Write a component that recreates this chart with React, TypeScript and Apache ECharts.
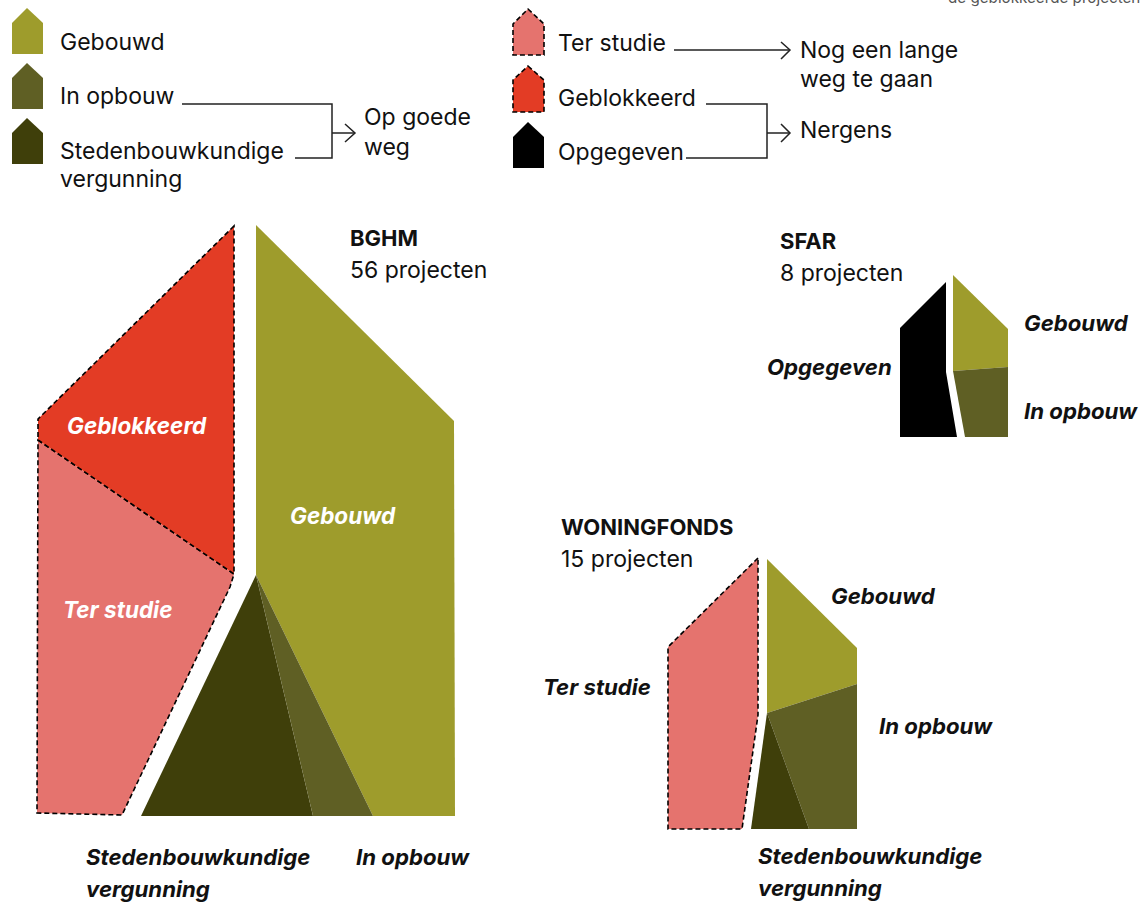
import React, { useEffect, useRef } from "react";
import * as echarts from "echarts";

const GEBOUWD = "#9e9c2c";
const OPBOUW = "#5f5f24";
const VERGUNNING = "#3f3f0a";
const STUDIE = "#e5736e";
const GEBLOKKEERD = "#e33c25";
const OPGEGEVEN = "#000000";

type Pt = number[];
const bghmGeblokkeerd: Pt[] = [[234, 226], [38, 419], [38, 440], [234, 574]];
const bghmStudie: Pt[] = [[38, 440], [234, 574], [230, 587], [122, 815], [37, 813]];
const bghmGebouwd: Pt[] = [[256, 225], [454, 421], [455, 816], [373, 816], [256, 575]];
const bghmVergunning: Pt[] = [[256, 575], [313, 816], [141, 816]];
const bghmOpbouw: Pt[] = [[256, 575], [373, 816], [313, 816]];

const sfarOpgegeven: Pt[] = [[946, 282], [900, 328], [900, 437], [957, 437], [946, 372]];
const sfarGebouwd: Pt[] = [[953, 275], [1008, 329], [1008, 367], [953, 371]];
const sfarOpbouw: Pt[] = [[953, 371], [1008, 367], [1008, 437], [965, 437]];

const wfStudie: Pt[] = [[758, 558], [668, 647], [668, 829], [742, 829], [758, 715]];
const wfGebouwd: Pt[] = [[767, 559], [857, 648], [857, 684], [767, 713]];
const wfOpbouw: Pt[] = [[767, 713], [857, 684], [857, 829], [809, 829]];
const wfVergunning: Pt[] = [[767, 713], [809, 829], [751, 829]];

const legGebouwd: Pt[] = [[27, 8], [43, 23], [43, 54], [12, 54], [12, 23]];
const legOpbouw: Pt[] = [[27, 63], [43, 78], [43, 109], [12, 109], [12, 78]];
const legVergunning: Pt[] = [[27, 118], [43, 133], [43, 164], [12, 164], [12, 133]];
const legStudie: Pt[] = [[528, 9], [544, 24], [544, 55], [513, 55], [513, 24]];
const legGeblokkeerd: Pt[] = [[528, 66], [544, 80], [544, 112], [513, 112], [513, 80]];
const legOpgegeven: Pt[] = [[528, 122], [544, 137], [544, 168], [513, 168], [513, 137]];

// [points, fill, dashed]
const shapes: [Pt[], string, boolean][] = [
  [bghmStudie, STUDIE, true],
  [bghmGeblokkeerd, GEBLOKKEERD, true],
  [bghmGebouwd, GEBOUWD, false],
  [bghmVergunning, VERGUNNING, false],
  [bghmOpbouw, OPBOUW, false],
  [sfarOpgegeven, OPGEGEVEN, false],
  [sfarGebouwd, GEBOUWD, false],
  [sfarOpbouw, OPBOUW, false],
  [wfStudie, STUDIE, true],
  [wfGebouwd, GEBOUWD, false],
  [wfOpbouw, OPBOUW, false],
  [wfVergunning, VERGUNNING, false],
  [legGebouwd, GEBOUWD, false],
  [legOpbouw, OPBOUW, false],
  [legVergunning, VERGUNNING, false],
  [legStudie, STUDIE, true],
  [legGeblokkeerd, GEBLOKKEERD, true],
  [legOpgegeven, OPGEGEVEN, false],
];

const connectorLines: Pt[][] = [
  [[182, 104], [332, 104], [332, 158], [295, 158]],
  [[332, 133], [355, 133]],
  [[345, 124], [355, 133], [345, 142]],
  [[674, 50], [790, 50]],
  [[781, 42], [790, 50], [781, 59]],
  [[706, 104], [767, 104], [767, 158], [686, 158]],
  [[767, 133], [790, 133]],
  [[781, 124], [790, 133], [781, 142]],
];

// [text, x, y-middle, kind]  kinds: n normal, h heading, i italic, w white italic, s small
const texts: [string, number, number, string][] = [
  ["de geblokkeerde projecten", 948, -3, "s"],
  ["Gebouwd", 60, 42, "n"],
  ["In opbouw", 60, 96, "n"],
  ["Stedenbouwkundige", 60, 151, "n"],
  ["vergunning", 60, 179, "n"],
  ["Op goede", 364, 117, "n"],
  ["weg", 364, 147, "n"],
  ["Ter studie", 558, 43, "n"],
  ["Geblokkeerd", 558, 98, "n"],
  ["Opgegeven", 558, 152, "n"],
  ["Nog een lange", 800, 50, "n"],
  ["weg te gaan", 800, 79, "n"],
  ["Nergens", 800, 130, "n"],
  ["BGHM", 350, 238, "h"],
  ["56 projecten", 350, 270, "n"],
  ["SFAR", 780, 241, "h"],
  ["8 projecten", 780, 273, "n"],
  ["WONINGFONDS", 561, 527, "h"],
  ["15 projecten", 561, 559, "n"],
  ["Geblokkeerd", 67, 425, "w"],
  ["Gebouwd", 290, 515.5, "w"],
  ["Ter studie", 63, 609, "w"],
  ["Stedenbouwkundige", 86, 856, "i"],
  ["vergunning", 86, 888, "i"],
  ["In opbouw", 356, 856, "i"],
  ["Gebouwd", 1024, 322.5, "i"],
  ["Opgegeven", 767, 366, "i"],
  ["In opbouw", 1024, 410, "i"],
  ["Gebouwd", 831, 595, "i"],
  ["Ter studie", 543, 686, "i"],
  ["In opbouw", 879, 725, "i"],
  ["Stedenbouwkundige", 758, 855, "i"],
  ["vergunning", 758, 887, "i"],
];

const FONT = "Inter";
const SIZES: Record<string, number> = { n: 23, h: 22, i: 22.2, w: 22.5, s: 15.2 };

export default function App() {
  const ref = useRef<HTMLDivElement>(null);
  useEffect(() => {
    document.body.style.margin = "0";
    const chart = echarts.init(ref.current!, undefined, { renderer: "svg" });
    const coordAll = (api: any, pts: Pt[]) => pts.map((p) => api.coord(p));
    chart.setOption({
      animation: false,
      backgroundColor: "#ffffff",
      grid: { left: 0, right: 0, top: 0, bottom: 0 },
      xAxis: { type: "value", min: 0, max: 1141, show: false },
      yAxis: { type: "value", min: 0, max: 903, inverse: true, show: false },
      series: [
        {
          type: "custom",
          clip: false,
          data: shapes.map((_, i) => [i]),
          encode: { x: 0, y: 0 },
          renderItem: (params: any, api: any) => {
            const [pts, fill, dashed] = shapes[params.dataIndex];
            return {
              type: "polygon",
              shape: { points: coordAll(api, pts) },
              style: {
                fill,
                stroke: dashed ? "#000000" : null,
                lineWidth: dashed ? 1.6 : 0,
                lineDash: dashed ? [5, 3] : null,
              },
            };
          },
        },
        {
          type: "custom",
          clip: false,
          data: connectorLines.map((_, i) => [i]),
          encode: { x: 0, y: 0 },
          renderItem: (params: any, api: any) => ({
            type: "polyline",
            shape: { points: coordAll(api, connectorLines[params.dataIndex]) },
            style: { fill: null, stroke: "#222222", lineWidth: 1.5 },
          }),
        },
        {
          type: "custom",
          clip: false,
          data: texts.map((_, i) => [i]),
          encode: { x: 0, y: 0 },
          renderItem: (params: any, api: any) => {
            const [text, x, y, kind] = texts[params.dataIndex];
            const [px, py] = api.coord([x, y]);
            const emph = kind === "i" || kind === "w";
            return {
              type: "text",
              x: px,
              y: py,
              style: {
                text,
                fill: kind === "w" ? "#ffffff" : kind === "s" ? "#555555" : "#111111",
                fontFamily: FONT,
                fontSize: SIZES[kind],
                fontStyle: emph ? "italic" : "normal",
                fontWeight: emph || kind === "h" ? 700 : 400,
                textAlign: "left",
                textVerticalAlign: "middle",
              },
            };
          },
        },
      ],
    });
    return () => chart.dispose();
  }, []);
  return <div ref={ref} style={{ width: 1141, height: 903, position: "absolute", left: 0, top: 0 }} />;
}
